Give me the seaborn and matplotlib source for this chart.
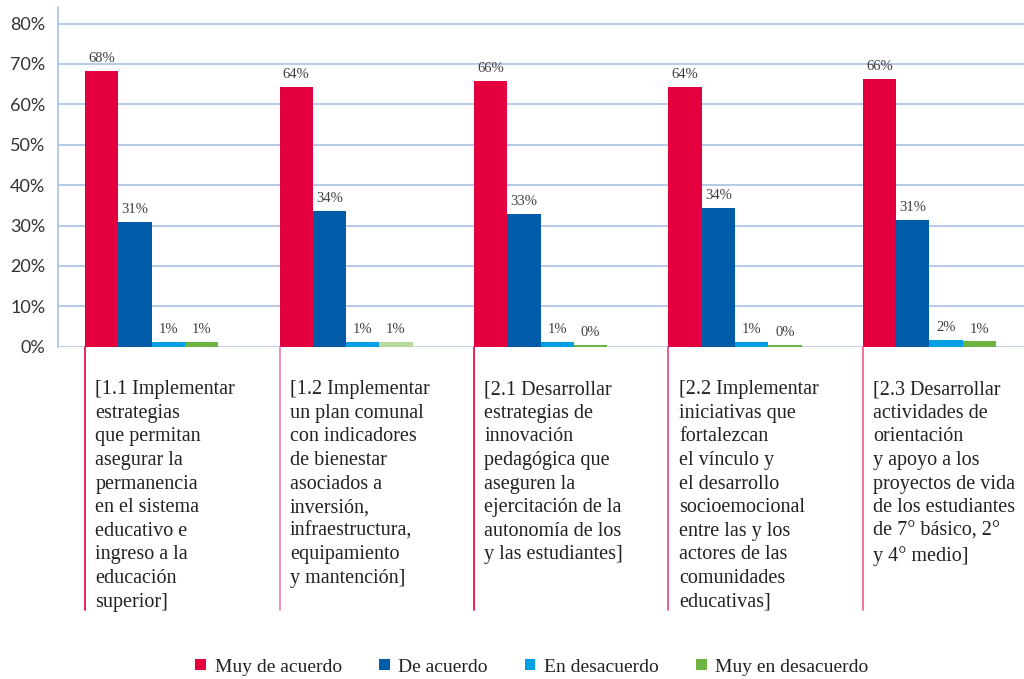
import matplotlib
matplotlib.use("Agg")
import matplotlib.pyplot as plt
from matplotlib.patches import Patch
import seaborn as sns
import pandas as pd

# ---- data ----
categories = ["1.1", "1.2", "2.1", "2.2", "2.3"]
category_labels = [
    "[1.1 Implementar\nestrategias\nque permitan\nasegurar la\npermanencia\nen el sistema\neducativo e\ningreso a la\neducación\nsuperior]",
    "[1.2 Implementar\nun plan comunal\ncon indicadores\nde bienestar\nasociados a\ninversión,\ninfraestructura,\nequipamiento\ny mantención]",
    "[2.1 Desarrollar\nestrategias de\ninnovación\npedagógica que\naseguren la\nejercitación de la\nautonomía de los\ny las estudiantes]",
    "[2.2 Implementar\niniciativas que\nfortalezcan\nel vínculo y\nel desarrollo\nsocioemocional\nentre las y los\nactores de las\ncomunidades\neducativas]",
    "[2.3 Desarrollar\nactividades de\norientación\ny apoyo a los\nproyectos de vida\nde los estudiantes\nde 7° básico, 2°\ny 4° medio]",
]
series = ["Muy de acuerdo", "De acuerdo", "En desacuerdo", "Muy en desacuerdo"]
muy_de_acuerdo = [68.3, 64.4, 65.9, 64.4, 66.4]
de_acuerdo = [30.9, 33.6, 32.9, 34.4, 31.4]
en_desacuerdo = [1.2, 1.2, 1.2, 1.2, 1.8]
muy_en_desacuerdo = [1.2, 1.2, 0.49, 0.49, 1.4]
y_ticks = [0, 10, 20, 30, 40, 50, 60, 70, 80]

colors = ["#e4003f", "#005ca8", "#009fe3", "#6db543"]
sep_colors = ["#e4003f", "#f07ba2", "#e4003f", "#e8457c", "#ea5f8e"]

values = [muy_de_acuerdo, de_acuerdo, en_desacuerdo, muy_en_desacuerdo]
rows = []
for s, vals in zip(series, values):
    for c, v in zip(categories, vals):
        rows.append({"cat": c, "serie": s, "val": v})
df = pd.DataFrame(rows)

# ---- figure ----
sns.set_style("white")
plt.rcParams["font.family"] = ["Liberation Serif", "DejaVu Serif"]

fig = plt.figure(figsize=(10.24, 6.79), dpi=100)
ax = fig.add_axes([58 / 1024, (679 - 346.8) / 679, 1 - 58 / 1024, 339.8 / 679])

sns.barplot(data=df, x="cat", y="val", hue="serie", order=categories,
            hue_order=series, palette=colors, width=0.684, ax=ax,
            legend=False, saturation=1, linewidth=0, errorbar=None)

# second group's last bar is drawn in a lighter green in the reference
ax.containers[3][1].set_facecolor("#b5d99c")

ax.set_xlim(-0.481, 4.486)
ax.set_ylim(0, 84.1)
ax.set_yticks(y_ticks)
ax.set_yticklabels([f"{t}%" for t in y_ticks], fontsize=13,
                   family=["Lato", "DejaVu Sans"], color="#333333")
ax.tick_params(axis="y", length=0, pad=9)
ax.set_xticks([])
ax.set_xlabel("")
ax.set_ylabel("")

grid_c = "#a9c0e6"
for t in y_ticks[1:]:
    ax.axhline(t, color=grid_c, lw=1.2, zorder=0)
ax.axhline(0, color="#c3d2ee", lw=2.2, zorder=0.5)
for side in ["top", "right", "bottom"]:
    ax.spines[side].set_visible(False)
ax.spines["left"].set_color(grid_c)
ax.spines["left"].set_linewidth(1.2)

for cont in ax.containers:
    ax.bar_label(cont, labels=[f"{b.get_height():.0f}%" for b in cont],
                 padding=4, fontsize=10.5, color="#404040")

# category separators and labels
xt = ax.get_xaxis_transform()
for i, (patch, lab) in enumerate(zip(ax.containers[0], category_labels)):
    left = patch.get_x()
    ax.plot([left, left], [0, -0.774], transform=xt, clip_on=False,
            color=sep_colors[i], lw=1.2)
    ax.annotate(lab, xy=(left, 0), xycoords=xt, xytext=(7.5, -24),
                textcoords="offset points", ha="left", va="top",
                fontsize=14.5, color="#222222", linespacing=1.33,
                annotation_clip=False)

handles = [Patch(facecolor=c, edgecolor="none", label=s) for c, s in zip(colors, series)]
fig.legend(handles=handles, loc="center", bbox_to_anchor=(532 / 1024, 1 - 667 / 679),
           ncol=4, frameon=False, fontsize=14, handlelength=0.55, handleheight=0.55,
           handletextpad=0.45, columnspacing=1.9, labelcolor="#222222")

fig.savefig("out.png", dpi=100)
